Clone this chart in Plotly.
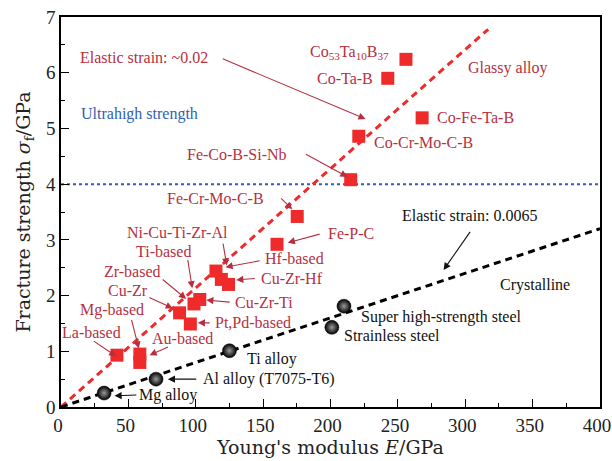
import plotly.graph_objects as go

# ---- data ----
glass_names = ["La-based", "Mg-based", "Au-based", "Cu-Zr", "Pt,Pd-based", "Zr-based", "Cu-Zr-Ti",
               "Ni-Cu-Ti-Zr-Al", "Hf-based", "Cu-Zr-Hf", "Fe-P-C", "Fe-Cr-Mo-C-B",
               "Fe-Co-B-Si-Nb", "Co-Cr-Mo-C-B", "Co-Ta-B", "Co53Ta10B37", "Co-Fe-Ta-B"]
glass_E = [41.5, 58.5, 58.5, 88, 96, 98.7, 103, 115, 119, 124.3, 160.3, 175.3, 215, 221, 242.5, 256, 268]
glass_S = [0.93, 0.95, 0.80, 1.69, 1.49, 1.85, 1.93, 2.44, 2.29, 2.20, 2.92, 3.42, 4.08, 4.86, 5.90, 6.24, 5.19]

cryst_names = ["Mg alloy", "Al alloy (T7075-T6)", "Ti alloy", "Strainless steel", "Super high-strength steel"]
cryst_E = [32, 70.5, 125, 201, 210]
cryst_S = [0.25, 0.50, 1.01, 1.43, 1.81]

glass_line_E = [0, 317]
glass_line_S = [0, 6.78]
cryst_line_E = [0, 400]
cryst_line_S = [0, 3.2]
ultra_E = [0, 400]
ultra_S = [4, 4]

x_ticks = [0, 50, 100, 150, 200, 250, 300, 350, 400]
y_ticks = [0, 1, 2, 3, 4, 5, 6, 7]

RED = "#ee2a2a"
TXT_RED = "#b5303f"
BLUE = "#2f5fb0"
FONT = "'Liberation Serif', 'Times New Roman', 'DejaVu Serif', serif"
TFONT = "'DejaVu Serif', 'Liberation Serif', serif"

fig = go.Figure()
fig.add_trace(go.Scatter(x=ultra_E, y=ultra_S, mode="lines",
                         line=dict(color=BLUE, width=2, dash="dot"), hoverinfo="skip"))
fig.add_trace(go.Scatter(x=glass_line_E, y=glass_line_S, mode="lines",
                         line=dict(color=RED, width=3, dash="7px,5px"), hoverinfo="skip"))
fig.add_trace(go.Scatter(x=cryst_line_E, y=cryst_line_S, mode="lines",
                         line=dict(color="black", width=3, dash="7px,5px"), hoverinfo="skip"))
fig.add_trace(go.Scatter(x=glass_E, y=glass_S, mode="markers", text=glass_names,
                         marker=dict(symbol="square", size=13, color=RED,
                                     line=dict(width=0))))
fig.add_trace(go.Scatter(x=cryst_E, y=cryst_S, mode="markers", text=cryst_names,
                         marker=dict(symbol="circle", size=14, color="black",
                                     gradient=dict(type="radial", color="#9a9a9a"),
                                     line=dict(width=0.5, color="black"))))

ann = []

def label(x, y, text, color=TXT_RED, xanchor="center", size=16):
    ann.append(dict(x=x, y=y, xref="x", yref="y", text=text, showarrow=False,
                    xanchor=xanchor, yanchor="middle",
                    font=dict(family=FONT, size=size, color=color)))

def arrow(x0, y0, x1, y1, color=TXT_RED):
    ann.append(dict(x=x1, y=y1, ax=x0, ay=y0, xref="x", yref="y", axref="x", ayref="y",
                    text="", showarrow=True, arrowhead=2, arrowsize=1.3, arrowwidth=1.1,
                    arrowcolor=color, standoff=0, startstandoff=0))

# red (glassy) labels
label(61.6, 6.28, "Elastic strain: ~0.02"); arrow(118.9, 6.26, 226.0, 5.17)
label(13.0, 5.26, "Ultrahigh strength", color=BLUE, xanchor="left")
label(130.6, 4.53, "Fe-Co-B-Si-Nb"); arrow(180.7, 4.55, 212.6, 4.13)
label(331.7, 6.09, "Glassy alloy")
label(245, 6.36, "Co<sub>53</sub>Ta<sub>10</sub>B<sub>37</sub>", xanchor="right")
label(232.7, 5.90, "Co-Ta-B", xanchor="right")
label(277.7, 5.19, "Co-Fe-Ta-B", xanchor="left")
label(231, 4.75, "Co-Cr-Mo-C-B", xanchor="left")
label(115.0, 3.74, "Fe-Cr-Mo-C-B"); arrow(162.2, 3.77, 171.6, 3.55)
label(196.8, 3.11, "Fe-P-C", xanchor="left"); arrow(193.1, 3.11, 168.3, 2.95)
label(149.8, 2.66, "Hf-based", xanchor="left"); arrow(148.6, 2.63, 122.1, 2.51)
label(86.1, 3.14, "Ni-Cu-Ti-Zr-Al"); arrow(120.1, 2.96, 123.0, 2.54)
label(75.7, 2.80, "Ti-based"); arrow(93.9, 2.67, 97.4, 2.13)
label(52.7, 2.44, "Zr-based"); arrow(74.4, 2.31, 92.9, 1.94)
label(49.4, 2.10, "Cu-Zr"); arrow(64.4, 1.98, 83.0, 1.77)
label(37.5, 1.74, "Mg-based"); arrow(52.1, 1.59, 57.7, 1.05)
label(22.4, 1.34, "La-based"); arrow(23.2, 1.20, 41.0, 0.91)
label(89.9, 1.23, "Au-based"); arrow(80.5, 1.09, 65.7, 0.93)
label(112.7, 1.51, "Pt,Pd-based", xanchor="left"); arrow(111.5, 1.51, 101.5, 1.51)
label(128.0, 1.88, "Cu-Zr-Ti", xanchor="left"); arrow(126.3, 1.88, 107.8, 1.92)
label(147.3, 2.31, "Cu-Zr-Hf", xanchor="left"); arrow(144.9, 2.31, 130.0, 2.28)

# black (crystalline) labels
K = "#111111"
label(56.3, 0.215, "Mg alloy", color=K, xanchor="left"); arrow(57.0, 0.215, 39.7, 0.20, color=K)
label(104.0, 0.50, "Al alloy (T7075-T6)", color=K, xanchor="left"); arrow(101.5, 0.50, 79.3, 0.50, color=K)
label(136.2, 0.87, "Ti alloy", color=K, xanchor="left")
label(221.0, 1.62, "Super high-strength steel", color=K, xanchor="left")
label(208.7, 1.29, "Strainless steel", color=K, xanchor="left")
label(351.4, 2.19, "Crystalline", color=K)
label(303.2, 3.44, "Elastic strain: 0.0065", color=K); arrow(304.4, 3.17, 283.9, 2.46, color=K)

axis_common = dict(showline=True, linecolor="black", linewidth=1.5, mirror=True,
                   ticks="inside", ticklen=8, tickwidth=1.2, tickcolor="black",
                   showgrid=False, zeroline=False, automargin=False,
                   ticklabeloverflow="allow",
                   tickfont=dict(family=FONT, size=19, color="#222"))

fig.update_layout(
    width=612, height=461,
    margin=dict(l=61, r=12, t=17, b=54),
    paper_bgcolor="white", plot_bgcolor="white",
    showlegend=False,
    annotations=ann,
    xaxis=dict(range=[0, 400], tickvals=x_ticks, ticklabelshift=-3,
               minor=dict(dtick=25, tick0=0, ticks="inside", ticklen=4, tickcolor="black"),
               title=dict(text="Young's modulus <i>E</i>/GPa", standoff=2,
                          font=dict(family=TFONT, size=19, color="#222")),
               **axis_common),
    yaxis=dict(range=[0, 7], tickvals=y_ticks,
               minor=dict(dtick=0.5, tick0=0, ticks="inside", ticklen=4, tickcolor="black"),
               title=dict(text="Fracture strength <i>σ</i><sub>f</sub>/GPa", standoff=10,
                          font=dict(family=TFONT, size=19, color="#222")),
               **axis_common),
)

fig.write_html("out.html")
